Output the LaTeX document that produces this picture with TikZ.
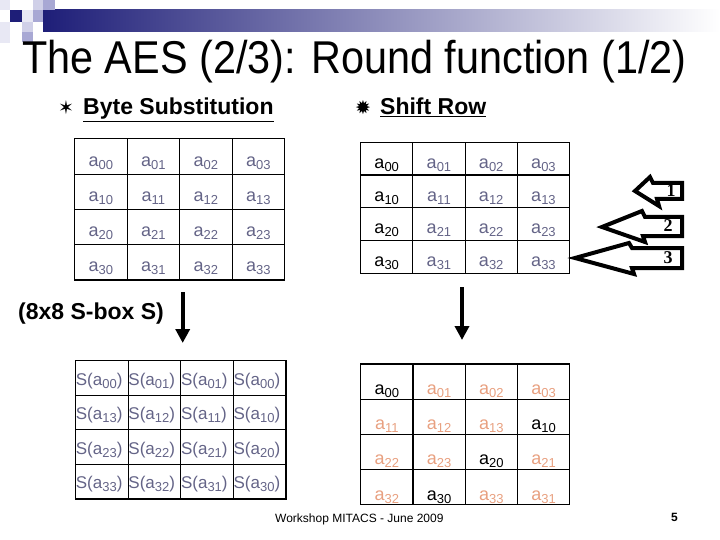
\documentclass[tikz,border=0pt]{standalone}
\usepackage{graphicx}
\usepackage{fontspec}
\setmainfont{Liberation Sans}
\newfontfamily\symfont{DejaVu Sans}
\newfontfamily\numfont{Liberation Serif}
\usetikzlibrary{arrows.meta}
\definecolor{aesnavy}{RGB}{30,30,120}
\definecolor{aesgray}{RGB}{100,100,135}
\definecolor{aessalmon}{RGB}{232,160,128}
\definecolor{sqpale}{RGB}{232,232,244}
\definecolor{sqlight}{RGB}{208,208,232}
\definecolor{sqmid}{RGB}{168,168,212}
\newcommand{\ax}[1]{a\raisebox{-3pt}{\fontsize{13}{13}\selectfont#1}}
\newcommand{\sx}[1]{S(\ax{#1})}
\tikzset{
	cell/.style={draw, line width=1.2pt, inner sep=0pt, anchor=north west, text depth=0pt, font=\fontsize{18}{18}\selectfont},
	heading/.style={anchor=base west, inner sep=0pt, font=\bfseries\fontsize{23}{23}\selectfont},
	bullet/.style={anchor=base west, inner sep=0pt, font=\symfont\fontsize{19}{19}\selectfont},
	shiftarrow/.style={line width=4pt, line join=miter},
	shiftnum/.style={inner sep=0pt, font=\numfont\bfseries\fontsize{18}{18}\selectfont},
	downarrow/.style={line width=4pt, -{Triangle[length=14pt,width=14pt]}}
}
\begin{document}
\begin{tikzpicture}[x=1pt, y=-1pt]
	\useasboundingbox (0,0) rectangle (720,540);
	% title bar and squares
	\shade[left color=aesnavy, right color=white] (43,10) rectangle (720,32);
	\fill[sqpale] (0,0) rectangle (10,10);
	\fill[sqlight] (33,0) rectangle (43,10);
	\fill[sqmid] (43,0) rectangle (55,10);
	\fill[aesnavy] (10,10) rectangle (22,22);
	\fill[sqpale] (22,10) rectangle (33,22);
	\fill[sqmid] (33,10) rectangle (43,22);
	\fill[sqlight] (22,22) rectangle (33,32);
	\fill[sqmid] (22,32) rectangle (33,42);
	\fill[sqpale] (0,22) rectangle (10,43);
	\node[anchor=base west, inner sep=0pt, font=\fontsize{46}{46}\selectfont] (title) at (22,74)
		{\scalebox{0.9}[1]{The AES (2/3): Round function (1/2)}};
	% headings
	\node[bullet] (bsstar) at (58,115) {✶};
	\node[heading] (bshead) at (83,115) {\underline{Byte Substitution}};
	\node[bullet] (srstar) at (355,115) {✹};
	\node[heading] (srhead) at (380,115) {\underline{Shift Row}};
	% byte substitution, input state
	\foreach \r in {0,...,3}
		\foreach \c in {0,...,3}
			\node[cell, minimum width=52.5pt, minimum height=35.25pt, text height=19pt, text=aesgray]
				(bs-\r-\c) at (74+\c*52.5, 138.3+\r*35.25) {\ax{\r\c}};
	% shift row, input state
	\foreach \r in {0,...,3}
		\foreach \c/\col in {0/black,1/aesgray,2/aesgray,3/aesgray}
			\node[cell, minimum width=52.25pt, minimum height=32.75pt, text height=19.4pt, text=\col]
				(sr-\r-\c) at (360+\c*52.25, 141.7+\r*32.75) {\ax{\r\c}};
	% shift amounts
	\draw[shiftarrow] (682,183) -- (653,183) -- (650,177) -- (635,191) -- (659,206) -- (657,199) -- (682,199) -- cycle;
	\draw[shiftarrow] (682,217) -- (645,217) -- (642,211) -- (602,227) -- (645,242) -- (643,236) -- (682,236) -- cycle;
	\draw[shiftarrow] (682,248) -- (632,248) -- (629,243) -- (575,258) -- (634,274) -- (632,268) -- (682,268) -- cycle;
	\node[shiftnum] (num1) at (671,191) {1};
	\node[shiftnum] (num2) at (668,226) {2};
	\node[shiftnum] (num3) at (668,258) {3};
	% S-box label and arrows
	\node[heading] (sbox) at (18,319) {(8x8 S-box S)};
	\coordinate (bsfrom) at (182.7,292);
	\coordinate (bsto) at (182.7,343);
	\coordinate (srfrom) at (462,287);
	\coordinate (srto) at (462,340);
	\draw[downarrow] (bsfrom) -- (bsto);
	\draw[downarrow] (srfrom) -- (srto);
	% byte substitution, output state
	\foreach \row [count=\r from 0] in {{00,01,01,00},{13,12,11,10},{23,22,21,20},{33,32,31,30}}
		\foreach \ix [count=\c from 0] in \row
			\node[cell, minimum width=52.6pt, minimum height=34.6pt, text height=14.3pt, text width=52.1pt,
				inner xsep=0.25pt, align=left, text=aesgray, font=\fontsize{17}{17}\selectfont]
				(sb-\r-\c) at (75+\c*52.6, 360+\r*34.6) {\sx{\ix}};
	% shift row, output state
	\foreach \row [count=\r from 0] in {{00/black,01/aessalmon,02/aessalmon,03/aessalmon},
			{11/aessalmon,12/aessalmon,13/aessalmon,10/black},
			{22/aessalmon,23/aessalmon,20/black,21/aessalmon},
			{32/aessalmon,30/black,33/aessalmon,31/aessalmon}}
		\foreach \ix/\col [count=\c from 0] in \row
			\node[cell, minimum width=52.3pt, minimum height=35.2pt, text height=26pt, text=\col]
				(so-\r-\c) at (360+\c*52.3, 363.3+\r*35.2) {\ax{\ix}};
	% footer
	\node[anchor=base west, inner sep=0pt, font=\fontsize{12}{12}\selectfont] (foot) at (275,522) {Workshop MITACS - June 2009};
	\node[anchor=base west, inner sep=0pt, font=\bfseries\fontsize{12}{12}\selectfont] (pnum) at (671,521) {5};
\end{tikzpicture}
\end{document}
